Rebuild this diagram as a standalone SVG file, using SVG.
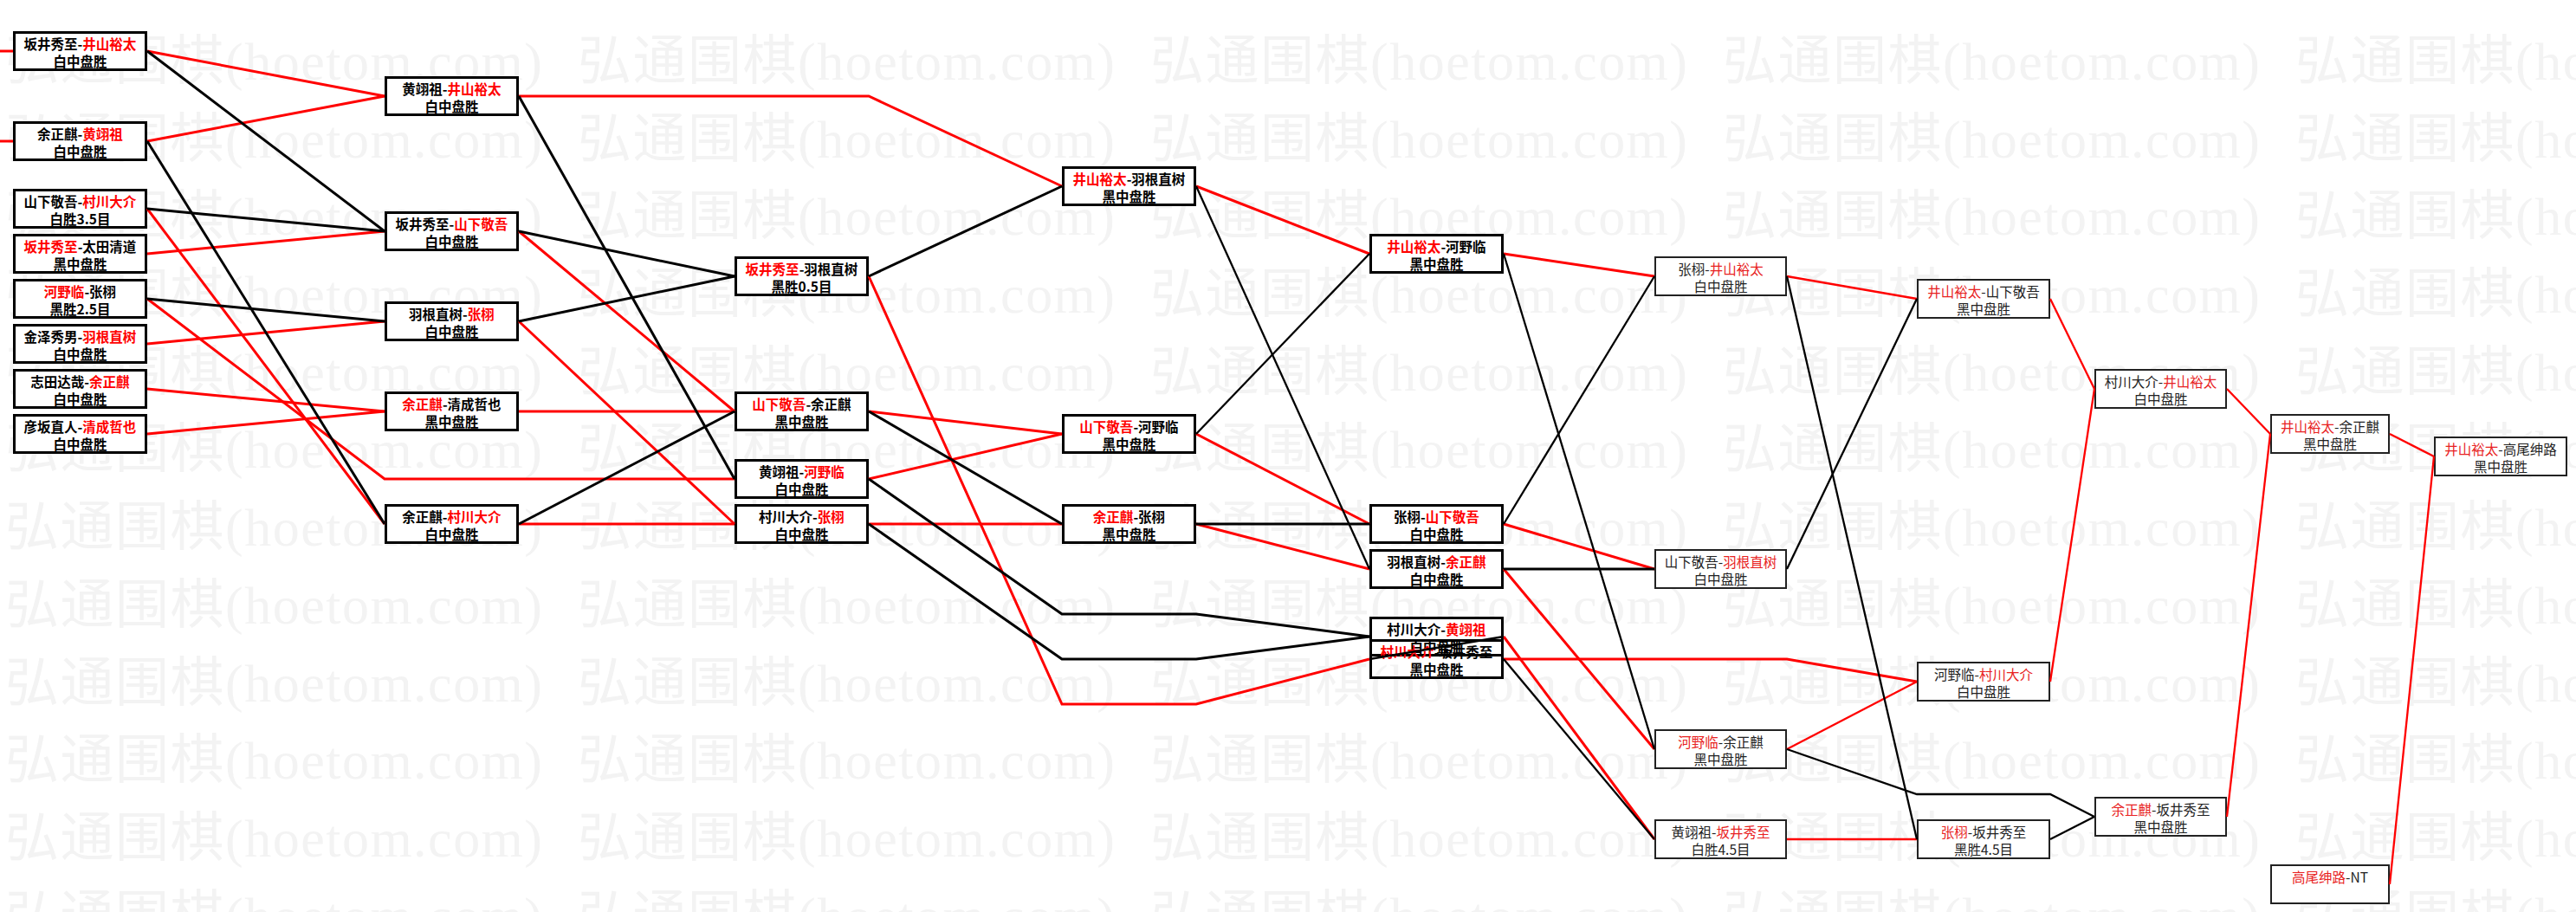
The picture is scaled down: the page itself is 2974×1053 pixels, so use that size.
<svg xmlns="http://www.w3.org/2000/svg" width="2974" height="1053" viewBox="0 0 2974 1053">
<style>
.wm{font-family:"Liberation Serif","Noto Sans CJK SC",serif;font-size:62px;fill:#f3f3f3}
.n rect{fill:#fff;stroke:#000;stroke-width:3}
.n text{font-family:"Noto Sans CJK SC",sans-serif;font-size:15.5px;font-weight:bold;fill:#000;text-anchor:middle}
.n2 rect{fill:#fff;stroke:#222;stroke-width:2}
.n2 text{font-family:"Noto Sans CJK SC",sans-serif;font-size:15.5px;font-weight:normal;fill:#222;text-anchor:middle}
.r{fill:#f00}
.n2 .r{fill:#e82222}
.cr{stroke:#f00;fill:none;stroke-width:3}
.cb{stroke:#000;fill:none;stroke-width:3}
.t{stroke-width:2.3}
</style>
<rect x="0" y="0" width="2974" height="1053" fill="#fff"/>
<g id="watermark">
<text class="wm" x="6" y="92" textLength="620" lengthAdjust="spacing">弘通围棋(hoetom.com)</text><text class="wm" x="667" y="92" textLength="620" lengthAdjust="spacing">弘通围棋(hoetom.com)</text><text class="wm" x="1328" y="92" textLength="620" lengthAdjust="spacing">弘通围棋(hoetom.com)</text><text class="wm" x="1989" y="92" textLength="620" lengthAdjust="spacing">弘通围棋(hoetom.com)</text><text class="wm" x="2650" y="92" textLength="620" lengthAdjust="spacing">弘通围棋(hoetom.com)</text>
<text class="wm" x="6" y="182" textLength="620" lengthAdjust="spacing">弘通围棋(hoetom.com)</text><text class="wm" x="667" y="182" textLength="620" lengthAdjust="spacing">弘通围棋(hoetom.com)</text><text class="wm" x="1328" y="182" textLength="620" lengthAdjust="spacing">弘通围棋(hoetom.com)</text><text class="wm" x="1989" y="182" textLength="620" lengthAdjust="spacing">弘通围棋(hoetom.com)</text><text class="wm" x="2650" y="182" textLength="620" lengthAdjust="spacing">弘通围棋(hoetom.com)</text>
<text class="wm" x="6" y="271" textLength="620" lengthAdjust="spacing">弘通围棋(hoetom.com)</text><text class="wm" x="667" y="271" textLength="620" lengthAdjust="spacing">弘通围棋(hoetom.com)</text><text class="wm" x="1328" y="271" textLength="620" lengthAdjust="spacing">弘通围棋(hoetom.com)</text><text class="wm" x="1989" y="271" textLength="620" lengthAdjust="spacing">弘通围棋(hoetom.com)</text><text class="wm" x="2650" y="271" textLength="620" lengthAdjust="spacing">弘通围棋(hoetom.com)</text>
<text class="wm" x="6" y="361" textLength="620" lengthAdjust="spacing">弘通围棋(hoetom.com)</text><text class="wm" x="667" y="361" textLength="620" lengthAdjust="spacing">弘通围棋(hoetom.com)</text><text class="wm" x="1328" y="361" textLength="620" lengthAdjust="spacing">弘通围棋(hoetom.com)</text><text class="wm" x="1989" y="361" textLength="620" lengthAdjust="spacing">弘通围棋(hoetom.com)</text><text class="wm" x="2650" y="361" textLength="620" lengthAdjust="spacing">弘通围棋(hoetom.com)</text>
<text class="wm" x="6" y="451" textLength="620" lengthAdjust="spacing">弘通围棋(hoetom.com)</text><text class="wm" x="667" y="451" textLength="620" lengthAdjust="spacing">弘通围棋(hoetom.com)</text><text class="wm" x="1328" y="451" textLength="620" lengthAdjust="spacing">弘通围棋(hoetom.com)</text><text class="wm" x="1989" y="451" textLength="620" lengthAdjust="spacing">弘通围棋(hoetom.com)</text><text class="wm" x="2650" y="451" textLength="620" lengthAdjust="spacing">弘通围棋(hoetom.com)</text>
<text class="wm" x="6" y="540" textLength="620" lengthAdjust="spacing">弘通围棋(hoetom.com)</text><text class="wm" x="667" y="540" textLength="620" lengthAdjust="spacing">弘通围棋(hoetom.com)</text><text class="wm" x="1328" y="540" textLength="620" lengthAdjust="spacing">弘通围棋(hoetom.com)</text><text class="wm" x="1989" y="540" textLength="620" lengthAdjust="spacing">弘通围棋(hoetom.com)</text><text class="wm" x="2650" y="540" textLength="620" lengthAdjust="spacing">弘通围棋(hoetom.com)</text>
<text class="wm" x="6" y="630" textLength="620" lengthAdjust="spacing">弘通围棋(hoetom.com)</text><text class="wm" x="667" y="630" textLength="620" lengthAdjust="spacing">弘通围棋(hoetom.com)</text><text class="wm" x="1328" y="630" textLength="620" lengthAdjust="spacing">弘通围棋(hoetom.com)</text><text class="wm" x="1989" y="630" textLength="620" lengthAdjust="spacing">弘通围棋(hoetom.com)</text><text class="wm" x="2650" y="630" textLength="620" lengthAdjust="spacing">弘通围棋(hoetom.com)</text>
<text class="wm" x="6" y="720" textLength="620" lengthAdjust="spacing">弘通围棋(hoetom.com)</text><text class="wm" x="667" y="720" textLength="620" lengthAdjust="spacing">弘通围棋(hoetom.com)</text><text class="wm" x="1328" y="720" textLength="620" lengthAdjust="spacing">弘通围棋(hoetom.com)</text><text class="wm" x="1989" y="720" textLength="620" lengthAdjust="spacing">弘通围棋(hoetom.com)</text><text class="wm" x="2650" y="720" textLength="620" lengthAdjust="spacing">弘通围棋(hoetom.com)</text>
<text class="wm" x="6" y="810" textLength="620" lengthAdjust="spacing">弘通围棋(hoetom.com)</text><text class="wm" x="667" y="810" textLength="620" lengthAdjust="spacing">弘通围棋(hoetom.com)</text><text class="wm" x="1328" y="810" textLength="620" lengthAdjust="spacing">弘通围棋(hoetom.com)</text><text class="wm" x="1989" y="810" textLength="620" lengthAdjust="spacing">弘通围棋(hoetom.com)</text><text class="wm" x="2650" y="810" textLength="620" lengthAdjust="spacing">弘通围棋(hoetom.com)</text>
<text class="wm" x="6" y="899" textLength="620" lengthAdjust="spacing">弘通围棋(hoetom.com)</text><text class="wm" x="667" y="899" textLength="620" lengthAdjust="spacing">弘通围棋(hoetom.com)</text><text class="wm" x="1328" y="899" textLength="620" lengthAdjust="spacing">弘通围棋(hoetom.com)</text><text class="wm" x="1989" y="899" textLength="620" lengthAdjust="spacing">弘通围棋(hoetom.com)</text><text class="wm" x="2650" y="899" textLength="620" lengthAdjust="spacing">弘通围棋(hoetom.com)</text>
<text class="wm" x="6" y="989" textLength="620" lengthAdjust="spacing">弘通围棋(hoetom.com)</text><text class="wm" x="667" y="989" textLength="620" lengthAdjust="spacing">弘通围棋(hoetom.com)</text><text class="wm" x="1328" y="989" textLength="620" lengthAdjust="spacing">弘通围棋(hoetom.com)</text><text class="wm" x="1989" y="989" textLength="620" lengthAdjust="spacing">弘通围棋(hoetom.com)</text><text class="wm" x="2650" y="989" textLength="620" lengthAdjust="spacing">弘通围棋(hoetom.com)</text>
<text class="wm" x="6" y="1079" textLength="620" lengthAdjust="spacing">弘通围棋(hoetom.com)</text><text class="wm" x="667" y="1079" textLength="620" lengthAdjust="spacing">弘通围棋(hoetom.com)</text><text class="wm" x="1328" y="1079" textLength="620" lengthAdjust="spacing">弘通围棋(hoetom.com)</text><text class="wm" x="1989" y="1079" textLength="620" lengthAdjust="spacing">弘通围棋(hoetom.com)</text><text class="wm" x="2650" y="1079" textLength="620" lengthAdjust="spacing">弘通围棋(hoetom.com)</text>
</g>
<g id="nodes">
<g id="A1" class="n"><rect x="16.5" y="37.5" width="152" height="43"/><text x="92.5" y="56.5">坂井秀至-<tspan class="r">井山裕太</tspan></text><text x="92.5" y="76.5">白中盘胜</text></g>
<g id="A2" class="n"><rect x="16.5" y="141.5" width="152" height="43"/><text x="92.5" y="160.5">余正麒-<tspan class="r">黄翊祖</tspan></text><text x="92.5" y="180.5">白中盘胜</text></g>
<g id="A3" class="n"><rect x="16.5" y="219.5" width="152" height="43"/><text x="92.5" y="238.5">山下敬吾-<tspan class="r">村川大介</tspan></text><text x="92.5" y="258.5">白胜3.5目</text></g>
<g id="A4" class="n"><rect x="16.5" y="271.5" width="152" height="43"/><text x="92.5" y="290.5"><tspan class="r">坂井秀至</tspan>-太田清道</text><text x="92.5" y="310.5">黑中盘胜</text></g>
<g id="A5" class="n"><rect x="16.5" y="323.5" width="152" height="43"/><text x="92.5" y="342.5"><tspan class="r">河野临</tspan>-张栩</text><text x="92.5" y="362.5">黑胜2.5目</text></g>
<g id="A6" class="n"><rect x="16.5" y="375.5" width="152" height="43"/><text x="92.5" y="394.5">金泽秀男-<tspan class="r">羽根直树</tspan></text><text x="92.5" y="414.5">白中盘胜</text></g>
<g id="A7" class="n"><rect x="16.5" y="427.5" width="152" height="43"/><text x="92.5" y="446.5">志田达哉-<tspan class="r">余正麒</tspan></text><text x="92.5" y="466.5">白中盘胜</text></g>
<g id="A8" class="n"><rect x="16.5" y="479.5" width="152" height="43"/><text x="92.5" y="498.5">彦坂直人-<tspan class="r">清成哲也</tspan></text><text x="92.5" y="518.5">白中盘胜</text></g>

<g id="B1" class="n"><rect x="445.5" y="89.5" width="152" height="43"/><text x="521.5" y="108.5">黄翊祖-<tspan class="r">井山裕太</tspan></text><text x="521.5" y="128.5">白中盘胜</text></g>
<g id="B2" class="n"><rect x="445.5" y="245.5" width="152" height="43"/><text x="521.5" y="264.5">坂井秀至-<tspan class="r">山下敬吾</tspan></text><text x="521.5" y="284.5">白中盘胜</text></g>
<g id="B3" class="n"><rect x="445.5" y="349.5" width="152" height="43"/><text x="521.5" y="368.5">羽根直树-<tspan class="r">张栩</tspan></text><text x="521.5" y="388.5">白中盘胜</text></g>
<g id="B4" class="n"><rect x="445.5" y="453.5" width="152" height="43"/><text x="521.5" y="472.5"><tspan class="r">余正麒</tspan>-清成哲也</text><text x="521.5" y="492.5">黑中盘胜</text></g>
<g id="B5" class="n"><rect x="445.5" y="583.5" width="152" height="43"/><text x="521.5" y="602.5">余正麒-<tspan class="r">村川大介</tspan></text><text x="521.5" y="622.5">白中盘胜</text></g>

<g id="C1" class="n"><rect x="849.5" y="297.5" width="152" height="43"/><text x="925.5" y="316.5"><tspan class="r">坂井秀至</tspan>-羽根直树</text><text x="925.5" y="336.5">黑胜0.5目</text></g>
<g id="C2" class="n"><rect x="849.5" y="453.5" width="152" height="43"/><text x="925.5" y="472.5"><tspan class="r">山下敬吾</tspan>-余正麒</text><text x="925.5" y="492.5">黑中盘胜</text></g>
<g id="C3" class="n"><rect x="849.5" y="531.5" width="152" height="43"/><text x="925.5" y="550.5">黄翊祖-<tspan class="r">河野临</tspan></text><text x="925.5" y="570.5">白中盘胜</text></g>
<g id="C4" class="n"><rect x="849.5" y="583.5" width="152" height="43"/><text x="925.5" y="602.5">村川大介-<tspan class="r">张栩</tspan></text><text x="925.5" y="622.5">白中盘胜</text></g>

<g id="D1" class="n"><rect x="1227.5" y="193.5" width="152" height="43"/><text x="1303.5" y="212.5"><tspan class="r">井山裕太</tspan>-羽根直树</text><text x="1303.5" y="232.5">黑中盘胜</text></g>
<g id="D2" class="n"><rect x="1227.5" y="479.5" width="152" height="43"/><text x="1303.5" y="498.5"><tspan class="r">山下敬吾</tspan>-河野临</text><text x="1303.5" y="518.5">黑中盘胜</text></g>
<g id="D3" class="n"><rect x="1227.5" y="583.5" width="152" height="43"/><text x="1303.5" y="602.5"><tspan class="r">余正麒</tspan>-张栩</text><text x="1303.5" y="622.5">黑中盘胜</text></g>

<g id="E1" class="n"><rect x="1582.5" y="271.5" width="152" height="43"/><text x="1658.5" y="290.5"><tspan class="r">井山裕太</tspan>-河野临</text><text x="1658.5" y="310.5">黑中盘胜</text></g>
<g id="E2" class="n"><rect x="1582.5" y="583.5" width="152" height="43"/><text x="1658.5" y="602.5">张栩-<tspan class="r">山下敬吾</tspan></text><text x="1658.5" y="622.5">白中盘胜</text></g>
<g id="E3" class="n"><rect x="1582.5" y="635.5" width="152" height="43"/><text x="1658.5" y="654.5">羽根直树-<tspan class="r">余正麒</tspan></text><text x="1658.5" y="674.5">白中盘胜</text></g>
<g id="E4" class="n"><rect x="1582.5" y="713.5" width="152" height="43"/><text x="1658.5" y="732.5">村川大介-<tspan class="r">黄翊祖</tspan></text><text x="1658.5" y="752.5">白中盘胜</text></g>
<g id="E5" class="n"><rect x="1582.5" y="739.5" width="152" height="43" style="fill:none"/><text x="1658.5" y="758.5"><tspan class="r">村川大介</tspan>-坂井秀至</text><text x="1658.5" y="778.5">黑中盘胜</text></g>

<g id="F1" class="n2"><rect x="1911" y="297" width="151" height="44"/><text x="1986.5" y="316.5">张栩-<tspan class="r">井山裕太</tspan></text><text x="1986.5" y="336.5">白中盘胜</text></g>
<g id="F2" class="n2"><rect x="1911" y="635" width="151" height="44"/><text x="1986.5" y="654.5">山下敬吾-<tspan class="r">羽根直树</tspan></text><text x="1986.5" y="674.5">白中盘胜</text></g>
<g id="F3" class="n2"><rect x="1911" y="843" width="151" height="44"/><text x="1986.5" y="862.5"><tspan class="r">河野临</tspan>-余正麒</text><text x="1986.5" y="882.5">黑中盘胜</text></g>
<g id="F4" class="n2"><rect x="1911" y="947" width="151" height="44"/><text x="1986.5" y="966.5">黄翊祖-<tspan class="r">坂井秀至</tspan></text><text x="1986.5" y="986.5">白胜4.5目</text></g>

<g id="G1" class="n2"><rect x="2214" y="323" width="152" height="44"/><text x="2290" y="342.5"><tspan class="r">井山裕太</tspan>-山下敬吾</text><text x="2290" y="362.5">黑中盘胜</text></g>
<g id="G2" class="n2"><rect x="2214" y="765" width="152" height="44"/><text x="2290" y="784.5">河野临-<tspan class="r">村川大介</tspan></text><text x="2290" y="804.5">白中盘胜</text></g>
<g id="G3" class="n2"><rect x="2214" y="947" width="152" height="44"/><text x="2290" y="966.5"><tspan class="r">张栩</tspan>-坂井秀至</text><text x="2290" y="986.5">黑胜4.5目</text></g>

<g id="H1" class="n2"><rect x="2419" y="427" width="151" height="44"/><text x="2494.5" y="446.5">村川大介-<tspan class="r">井山裕太</tspan></text><text x="2494.5" y="466.5">白中盘胜</text></g>
<g id="H2" class="n2"><rect x="2419" y="921" width="151" height="44"/><text x="2494.5" y="940.5"><tspan class="r">余正麒</tspan>-坂井秀至</text><text x="2494.5" y="960.5">黑中盘胜</text></g>

<g id="I1" class="n2"><rect x="2622" y="479" width="136" height="44"/><text x="2690" y="498.5"><tspan class="r">井山裕太</tspan>-余正麒</text><text x="2690" y="518.5">黑中盘胜</text></g>
<g id="I2" class="n2"><rect x="2622" y="999" width="136" height="44"/><text x="2690" y="1018.5"><tspan class="r">高尾绅路</tspan>-NT</text></g>

<g id="J1" class="n2"><rect x="2811" y="505" width="152" height="44"/><text x="2887" y="524.5"><tspan class="r">井山裕太</tspan>-高尾绅路</text><text x="2887" y="544.5">黑中盘胜</text></g>
</g>
<g id="connectors">
<polyline class="cr" points="0,59 15,59"/>
<polyline class="cr" points="0,163 15,163"/>
<polyline class="cr" points="170,59 444,111"/>
<polyline class="cr" points="170,163 444,111"/>
<polyline class="cr" points="170,241 444,605"/>
<polyline class="cr" points="170,293 444,267"/>
<polyline class="cr" points="170,345 444,553 848,553"/>
<polyline class="cr" points="170,397 444,371"/>
<polyline class="cr" points="170,449 444,475"/>
<polyline class="cr" points="170,501 444,475"/>
<polyline class="cr" points="599,111 1003,111 1226,215"/>
<polyline class="cr" points="599,267 848,475"/>
<polyline class="cr" points="599,371 848,605"/>
<polyline class="cr" points="599,475 848,475"/>
<polyline class="cr" points="599,605 848,605"/>
<polyline class="cr" points="1003,319 1226,813 1381,813 1581,761"/>
<polyline class="cr" points="1003,475 1226,501"/>
<polyline class="cr" points="1003,553 1226,501"/>
<polyline class="cr" points="1003,605 1226,605"/>
<polyline class="cr" points="1381,215 1581,293"/>
<polyline class="cr" points="1381,501 1581,605"/>
<polyline class="cr" points="1381,605 1581,657"/>
<polyline class="cr" points="1736,293 1910,319"/>
<polyline class="cr" points="1736,605 1910,657"/>
<polyline class="cr" points="1736,657 1910,865"/>
<polyline class="cr" points="1736,735 1910,969"/>
<polyline class="cr" points="1736,761 2063,761 2213,787"/>
<polyline class="cr t" points="2063,319 2213,345"/>
<polyline class="cr t" points="2063,865 2213,787"/>
<polyline class="cr t" points="2063,969 2213,969"/>
<polyline class="cr t" points="2367,345 2418,449"/>
<polyline class="cr t" points="2367,787 2418,449"/>
<polyline class="cr t" points="2571,449 2621,501"/>
<polyline class="cr t" points="2571,943 2621,501"/>
<polyline class="cr t" points="2759,501 2810,527"/>
<polyline class="cr t" points="2759,1021 2810,527"/>
<polyline class="cb" points="170,59 444,267"/>
<polyline class="cb" points="170,163 444,605"/>
<polyline class="cb" points="170,241 444,267"/>
<polyline class="cb" points="170,345 444,371"/>
<polyline class="cb" points="599,111 848,553"/>
<polyline class="cb" points="599,267 848,319"/>
<polyline class="cb" points="599,371 848,319"/>
<polyline class="cb" points="599,605 848,475"/>
<polyline class="cb" points="1003,319 1226,215"/>
<polyline class="cb" points="1003,475 1226,605"/>
<polyline class="cb" points="1003,553 1226,709 1381,709 1581,735"/>
<polyline class="cb" points="1003,605 1226,761 1381,761 1581,735"/>
<polyline class="cb t" points="1381,215 1581,657"/>
<polyline class="cb t" points="1381,501 1581,293"/>
<polyline class="cb" points="1381,605 1581,605"/>
<polyline class="cb t" points="1736,293 1910,865"/>
<polyline class="cb t" points="1736,605 1910,319"/>
<polyline class="cb" points="1736,657 1910,657"/>
<polyline class="cb t" points="1736,735 1581,761"/>
<polyline class="cb t" points="1736,761 1910,969"/>
<polyline class="cb t" points="2063,319 2213,969"/>
<polyline class="cb t" points="2063,657 2213,345"/>
<polyline class="cb t" points="2063,865 2213,917 2367,917 2418,943"/>
<polyline class="cb t" points="2367,969 2418,943"/>
</g>
</svg>
